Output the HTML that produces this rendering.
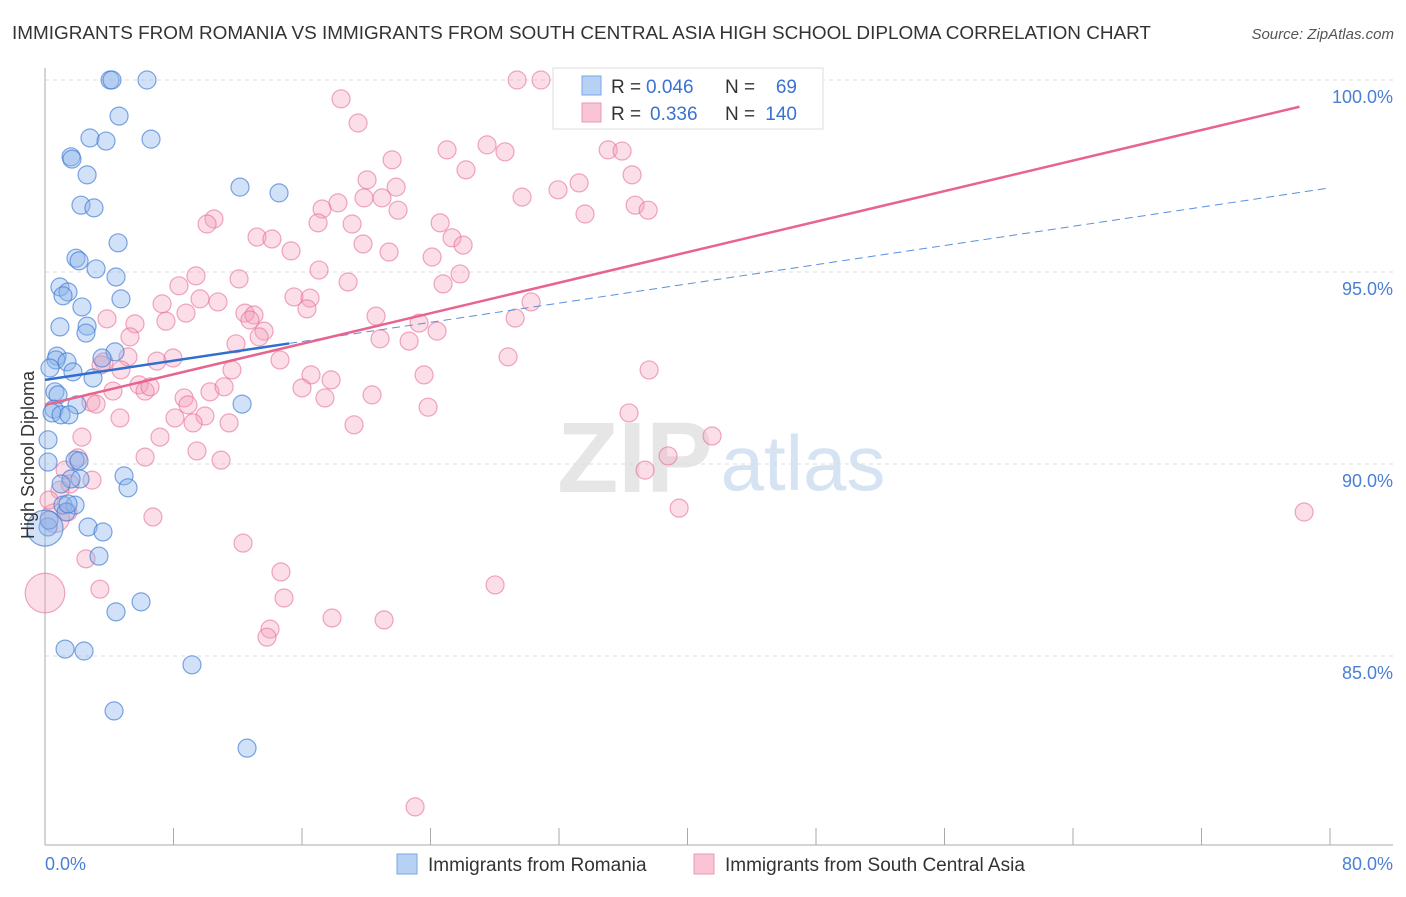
<!DOCTYPE html>
<html><head><meta charset="utf-8"><style>
body{margin:0;background:#fff;font-family:"Liberation Sans",sans-serif;}
svg text{font-family:"Liberation Sans",sans-serif;}
</style></head><body>
<svg id="chart" width="1406" height="892" viewBox="0 0 1406 892" xmlns="http://www.w3.org/2000/svg">
<text x="12" y="39" font-size="18" fill="#333" textLength="1139" lengthAdjust="spacingAndGlyphs">IMMIGRANTS FROM ROMANIA VS IMMIGRANTS FROM SOUTH CENTRAL ASIA HIGH SCHOOL DIPLOMA CORRELATION CHART</text>
<text x="1394" y="39" font-size="15" fill="#555" font-style="italic" text-anchor="end">Source: ZipAtlas.com</text>
<g>
<text x="635" y="492" font-size="100" fill="#e6e6e6" font-family="Liberation Serif" text-anchor="middle" font-weight="bold">ZIP</text>
<text x="803" y="490" font-size="78" fill="#d5e3f3" text-anchor="middle">atlas</text>
</g>
<g id="grid"></g>
<g id="axes"></g>
<g id="pts"></g>
<g id="trend"></g>
<text transform="translate(34,455) rotate(-90)" font-size="18" fill="#333" text-anchor="middle">High School Diploma</text>
<text x="45" y="870" font-size="18" fill="#4a7fd4">0.0%</text>
<text x="1393" y="870" font-size="18" fill="#4a7fd4" text-anchor="end">80.0%</text>
<g>
<rect x="553" y="68" width="270" height="61" fill="#fff" stroke="#ddd"/>
<rect x="582" y="76" width="19" height="19" fill="#b7d1f4" stroke="#7aa6e6"/>
<rect x="582" y="103" width="19" height="19" fill="#f9c5d4" stroke="#ec98b2"/>
<text x="611" y="93" font-size="19" fill="#333">R =</text>
<text x="646" y="93" font-size="19" fill="#3a72d0">0.046</text>
<text x="725" y="93" font-size="19" fill="#333">N =</text>
<text x="797" y="93" font-size="19" fill="#3a72d0" text-anchor="end">69</text>
<text x="611" y="120" font-size="19" fill="#333">R =</text>
<text x="650" y="120" font-size="19" fill="#3a72d0">0.336</text>
<text x="725" y="120" font-size="19" fill="#333">N =</text>
<text x="797" y="120" font-size="19" fill="#3a72d0" text-anchor="end">140</text>
</g>
<g>
<rect x="397" y="854" width="20" height="20" fill="#b7d1f4" stroke="#7aa6e6"/>
<text x="428" y="871" font-size="19" fill="#333">Immigrants from Romania</text>
<rect x="694" y="854" width="20" height="20" fill="#f9c5d4" stroke="#ec98b2"/>
<text x="725" y="871" font-size="19" fill="#333">Immigrants from South Central Asia</text>
</g>
</svg>
<script>
const yTicks=[100,95,90,85];
const yTickLabels=["100.0%","95.0%","90.0%","85.0%"];
const xTicks=[8,16,24,32,40,48,56,64,72,80];
const romaniaX=[4.05,4.17,6.35,4.61,6.6,2.8,3.8,1.62,1.68,2.62,12.14,14.57,2.24,3.05,4.55,1.93,2.12,3.18,4.42,0.93,1.43,1.12,4.73,2.3,0.93,2.62,2.55,4.36,0.75,0.68,3.55,1.37,0.31,1.74,2.99,0.62,0.81,1.99,0.56,0.44,1.0,1.49,12.27,0.19,0.19,1.87,2.12,2.18,1.62,1.0,4.92,5.17,1.12,1.87,1.31,0.19,2.68,3.61,3.36,4.42,5.98,1.25,2.43,9.15,4.3,12.58,1.43,0.25,0];
const romaniaY=[100,100,100,99.06,98.46,98.49,98.41,98.0,97.94,97.53,97.21,97.06,96.74,96.67,95.76,95.36,95.29,95.08,94.87,94.61,94.48,94.38,94.3,94.09,93.57,93.59,93.41,92.92,92.81,92.71,92.76,92.66,92.5,92.4,92.24,91.88,91.8,91.54,91.43,91.33,91.28,91.28,91.56,90.63,90.05,90.1,90.08,89.61,89.61,89.48,89.69,89.38,88.93,88.93,88.75,88.36,88.36,88.23,87.6,86.15,86.41,85.18,85.13,84.77,83.57,82.6,88.96,88.54,88.33];
const romaniaSize=[1,1,1,1,1,1,1,1,1,1,1,1,1,1,1,1,1,1,1,1,1,1,1,1,1,1,1,1,1,1,1,1,1,1,1,1,1,1,1,1,1,1,1,1,1,1,1,1,1,1,1,1,1,1,1,1,1,1,1,1,1,1,1,1,1,1,1,1,2.0];
const scaX=[29.39,30.88,18.43,19.49,35.55,36.24,27.52,25.03,28.64,21.61,35.06,35.93,26.21,20.05,21.86,36.55,31.94,33.25,19.86,20.98,29.7,18.24,17.25,21.98,33.62,36.74,37.55,10.52,10.09,17.0,19.12,24.6,13.2,14.13,25.34,26.03,19.8,15.32,21.42,24.1,9.4,12.08,17.06,25.84,18.87,8.34,24.78,7.29,9.65,10.77,15.5,16.5,8.78,12.45,13.01,7.53,12.76,16.31,20.61,23.29,5.6,3.86,13.64,13.33,5.29,11.89,24.41,20.86,22.67,29.27,30.26,14.63,5.17,6.97,7.97,28.83,3.67,11.64,23.6,16.56,17.81,37.61,4.73,5.85,6.23,6.54,4.23,10.27,11.15,16.0,20.36,8.66,17.43,2.86,3.18,8.9,4.67,8.09,9.96,11.46,19.24,23.85,36.36,2.3,7.16,9.46,6.23,10.96,2.05,41.53,38.79,37.36,1.25,2.93,1.56,0.93,1.43,6.72,39.48,78.39,12.33,2.55,14.69,28.02,3.42,14.88,17.87,21.11,14.01,13.82,23.04,0.62,0,3.49,9.22,0.25];
const scaY=[100,100,99.51,98.88,99.09,99.14,98.31,98.18,98.13,97.92,98.18,98.15,97.66,97.4,97.21,97.53,97.14,97.32,96.93,96.93,96.95,96.8,96.64,96.61,96.51,96.74,96.61,96.38,96.25,96.28,96.25,96.28,95.91,95.86,95.89,95.7,95.73,95.55,95.52,95.39,94.9,94.82,95.05,94.95,94.74,94.64,94.69,94.17,94.3,94.22,94.35,94.32,93.93,93.93,93.88,93.72,93.75,94.04,93.85,93.67,93.65,93.78,93.46,93.31,93.31,93.13,93.46,93.26,93.2,93.8,94.22,92.71,92.79,92.68,92.76,92.79,92.66,92.45,92.32,92.32,92.19,92.45,92.45,92.06,91.9,92.01,91.9,91.88,92.01,91.98,91.8,91.72,91.72,91.61,91.56,91.54,91.2,91.2,91.25,91.07,91.02,91.48,91.33,90.7,90.7,90.34,90.18,90.1,90.16,90.73,90.21,89.84,89.84,89.58,89.48,89.32,88.75,88.62,88.85,88.75,87.94,87.53,87.19,86.85,86.74,86.51,85.99,85.94,85.7,85.49,81.07,88.59,86.64,92.58,91.07,89.06];
const scaSize=scaX.map((_,i)=>i===scaX.length-5?1.6:(i===scaX.length-4?2.2:1));
const trendRomania=[92.19,0.0625];
const trendSca=[91.54,0.0994];
const NS="http://www.w3.org/2000/svg";
const X0=45,X1=1330,Y100=80,PXPER=38.4;
const xs=v=>X0+v/80*(X1-X0);
const ys=v=>Y100+(100-v)*PXPER;
function mk(t,a,p){const e=document.createElementNS(NS,t);for(const k in a)e.setAttribute(k,a[k]);p.appendChild(e);return e;}
const grid=document.getElementById('grid'),axes=document.getElementById('axes'),pts=document.getElementById('pts'),tr=document.getElementById('trend');
yTicks.forEach((v,i)=>{
 const l=mk('line',{x1:45,x2:1393,y1:ys(v),y2:ys(v),stroke:'#ddd','stroke-dasharray':'4,4'},grid);
 
 
 const t=mk('text',{x:1393,y:ys(v)+23,'font-size':18,fill:'#4a7fd4','text-anchor':'end'},grid);
 t.textContent=yTickLabels[i];
 
 
});
const ya=mk('line',{x1:45,x2:45,y1:68,y2:845,stroke:'#aaa'},axes);


const xa=mk('line',{x1:45,x2:1393,y1:845,y2:845,stroke:'#aaa'},axes);


xTicks.forEach(v=>{
 const t=mk('line',{x1:xs(v),x2:xs(v),y1:828,y2:845,stroke:'#aaa'},axes);
 
 
});
function dot(x,y,s,fill,stroke,name){
 const c=mk('circle',{cx:xs(x),cy:ys(y),r:9*s,fill:fill,stroke:stroke,'stroke-width':1.2},pts);
 
 
}
scaX.forEach((x,i)=>dot(x,scaY[i],scaSize[i],'rgba(244,160,186,0.35)','rgba(230,110,150,0.6)','sca-point'));
romaniaX.forEach((x,i)=>dot(x,romaniaY[i],romaniaSize[i],'rgba(140,180,235,0.4)','rgba(60,120,210,0.65)','romania-point'));
const bs=mk('line',{x1:xs(0),y1:ys(trendRomania[0]),x2:xs(15.2),y2:ys(trendRomania[0]+trendRomania[1]*15.2),stroke:'#2f6fd0','stroke-width':2.5},tr);


const bd=mk('line',{x1:xs(15.2),y1:ys(trendRomania[0]+trendRomania[1]*15.2),x2:xs(80),y2:ys(trendRomania[0]+trendRomania[1]*80),stroke:'#5b8fdc','stroke-width':1,'stroke-dasharray':'8,5'},tr);


const ps=mk('line',{x1:xs(0),y1:ys(trendSca[0]),x2:xs(78.1),y2:ys(trendSca[0]+trendSca[1]*78.1),stroke:'#e8638e','stroke-width':2.5},tr);


</script>
</body></html>
